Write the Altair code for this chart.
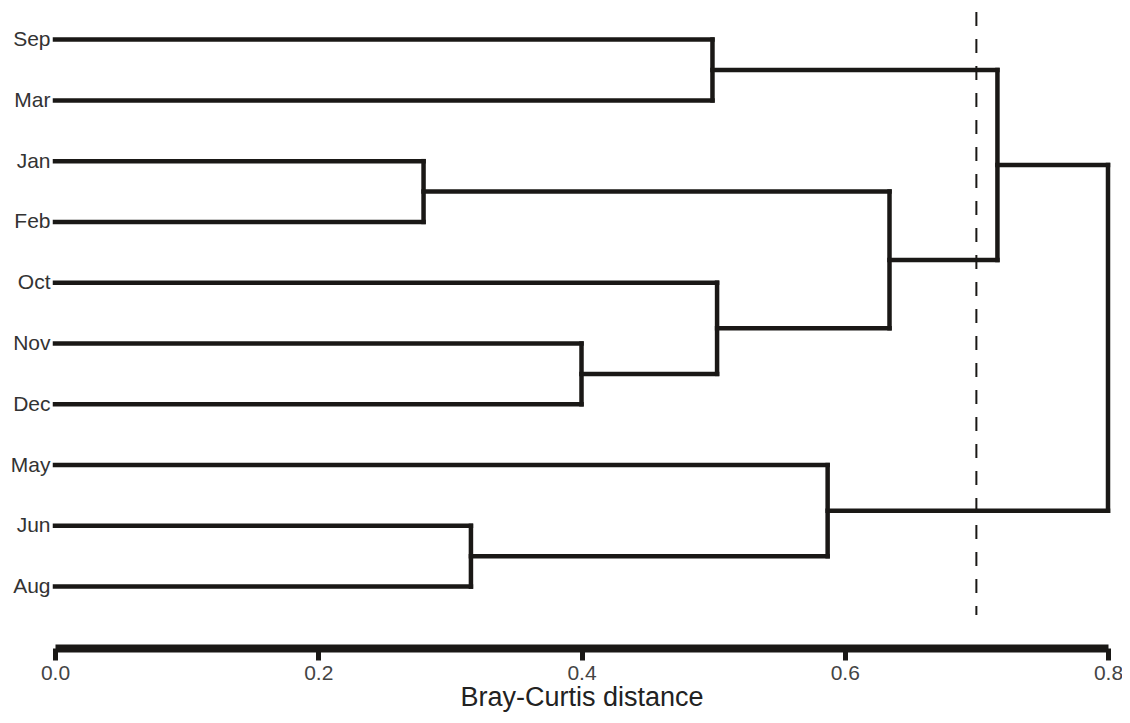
import altair as alt
import pandas as pd

# Leaves in dendrogram order (top to bottom)
leaves = ["Sep", "Mar", "Jan", "Feb", "Oct", "Nov", "Dec", "May", "Jun", "Aug"]

# Linkage: node ids 0-9 are leaves, each merge creates node 10, 11, ...
# 10: Jan+Feb, 11: Jun+Aug, 12: Nov+Dec, 13: Sep+Mar, 14: Oct+(12),
# 15: May+(11), 16: (10)+(14), 17: (13)+(16), 18: (17)+(15)
merge_left = [2, 8, 5, 0, 4, 7, 10, 13, 17]
merge_right = [3, 9, 6, 1, 12, 11, 14, 16, 15]
merge_height = [0.280, 0.316, 0.400, 0.4995, 0.503, 0.587, 0.634, 0.716, 0.800]

cut_height = [0.70]
x_ticks = [0.0, 0.2, 0.4, 0.6, 0.8]

node_y = {i: float(i) for i in range(len(leaves))}
node_h = {i: 0.0 for i in range(len(leaves))}
segs = []
for k, (a, b, h) in enumerate(zip(merge_left, merge_right, merge_height)):
    nid = len(leaves) + k
    for c in (a, b):
        segs.append({"x": node_h[c], "x2": h, "y": node_y[c], "y2": node_y[c]})
    segs.append({"x": h, "x2": h, "y": node_y[a], "y2": node_y[b]})
    node_y[nid] = (node_y[a] + node_y[b]) / 2
    node_h[nid] = h

df = pd.DataFrame(segs)
cut_df = pd.DataFrame({"h": cut_height})

label_expr = "[" + ",".join("'%s'" % s for s in leaves) + "][datum.value]"

x_scale = alt.Scale(domain=[0, 0.8], nice=False, zero=False)
y_scale = alt.Scale(domain=[-0.52, 10.01], reverse=True, nice=False, zero=False)

dark = "#1a1816"

tree = alt.Chart(df).mark_rule(color=dark, strokeWidth=4.5, strokeCap="square").encode(
    x=alt.X("x:Q", scale=x_scale,
            axis=alt.Axis(values=x_ticks, format=".1f", title="Bray-Curtis distance",
                          grid=False, domainColor=dark, domainWidth=8,
                          tickColor=dark, tickWidth=5, tickSize=12,
                          labelFont="Liberation Sans", labelFontSize=21, labelColor="#444444",
                          labelPadding=2, labelBaseline="top", labelFlush=False,
                          labelAlign="center",
                          titleFont="Liberation Sans", titleFontSize=27, titleColor="#222222",
                          titleFontWeight="normal", titleBaseline="alphabetic", titleY=57)),
    x2="x2:Q",
    y=alt.Y("y:Q", scale=y_scale,
            axis=alt.Axis(values=list(range(len(leaves))), labelExpr=label_expr,
                          title=None, grid=False, domain=False, ticks=False,
                          labelFont="Liberation Sans", labelFontSize=21, labelColor="#333333",
                          labelPadding=5)),
    y2="y2:Q",
)

cut = alt.Chart(cut_df).mark_rule(color=dark, strokeWidth=2, strokeDash=[14, 13]).encode(
    x=alt.X("h:Q", scale=x_scale),
    y=alt.value(4),
    y2=alt.value(607),
)

chart = (tree + cut).properties(
    width=1053, height=640,
    autosize=alt.AutoSizeParams(type="none"),
    padding={"left": 47, "top": 0, "right": 14, "bottom": 67},
    background="white",
).configure_view(strokeWidth=0, stroke="transparent")

chart.save("out.html", embed_options={"renderer": "svg", "actions": False})
